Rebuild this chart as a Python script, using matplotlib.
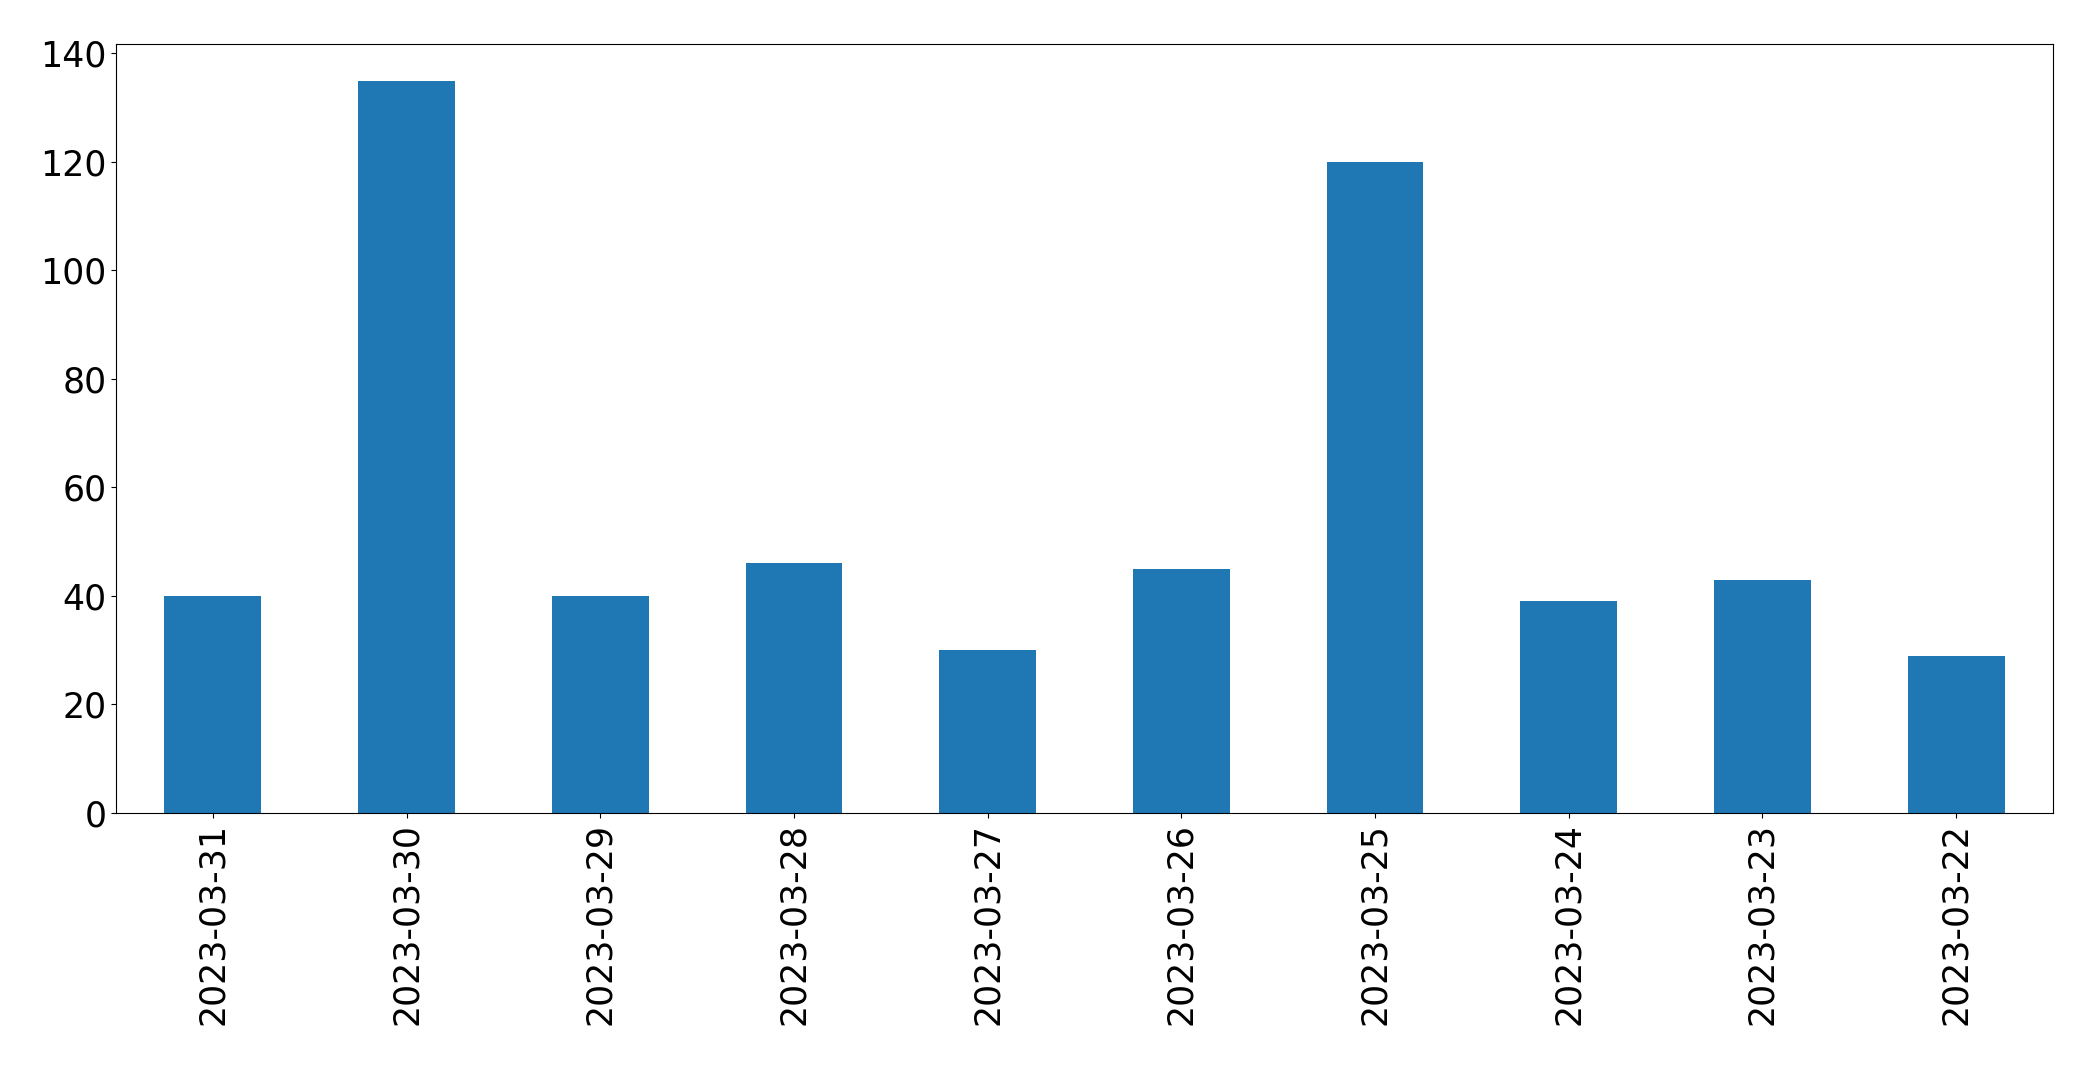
import matplotlib
matplotlib.use("Agg")
import matplotlib.pyplot as plt
import numpy as np

dates = ["2023-03-31", "2023-03-30", "2023-03-29", "2023-03-28", "2023-03-27",
         "2023-03-26", "2023-03-25", "2023-03-24", "2023-03-23", "2023-03-22"]
values = [40, 135, 40, 46, 30, 45, 120, 39, 43, 29]

fig = plt.figure(figsize=(20.93, 10.65), dpi=100)
ax = fig.add_axes([116/2093, 1 - 813/1065, (2053-116)/2093, (813-44)/1065])
x = np.arange(len(dates))
ax.bar(x, values, width=0.5, color="#1f77b4")
ax.set_xticks(x)
ax.set_xticklabels(dates, rotation=90)
ax.set_xlim(-0.5, len(dates) - 0.5)
ax.set_ylim(0, 141.75)
ax.tick_params(labelsize=25)
fig.savefig("out.png", dpi=100)
